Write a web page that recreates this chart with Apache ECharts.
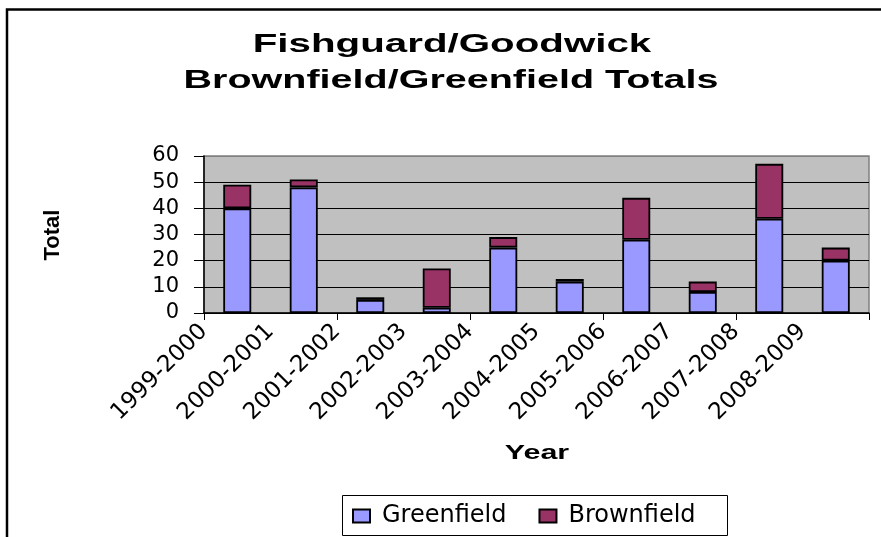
<!DOCTYPE html>
<html>
<head>
<meta charset="utf-8">
<script src="https://cdn.jsdelivr.net/npm/echarts@6/dist/echarts.min.js"></script>
<style>
html,body{margin:0;padding:0;background:#fff;}
#c{width:881px;height:537px;}
</style>
</head>
<body>
<div id="c"></div>
<script>
const categories = ['1999-2000','2000-2001','2001-2002','2002-2003','2003-2004','2004-2005','2005-2006','2006-2007','2007-2008','2008-2009'];
const greenfield = [40, 48, 5, 2, 25, 12, 28, 8, 36, 20];
const brownfield = [9, 3, 1, 15, 4, 1, 16, 4, 21, 5];
const yTicks = {min: 0, max: 60, interval: 10};
const titleLines = ['Fishguard/Goodwick', 'Brownfield/Greenfield Totals'];
const xName = 'Year';
const yName = 'Total';

const chart = echarts.init(document.getElementById('c'), null, {renderer: 'canvas'});
const F = "'DejaVu Sans', sans-serif";
const FB = "'Liberation Sans', Arial, sans-serif";

const option = {
  animation: false,
  backgroundColor: '#fff',
  graphic: [
    {type: 'rect', shape: {x: 7, y: 9.5, width: 900, height: 600}, style: {fill: 'none', stroke: '#000', lineWidth: 2.5}, z: 100},
    {type: 'text', x: 452, y: 45, scaleX: 1.55, style: {text: titleLines[0], font: 'bold 26px ' + FB, fill: '#000', textAlign: 'center', textVerticalAlign: 'middle'}},
    {type: 'text', x: 451, y: 81, scaleX: 1.52, style: {text: titleLines[1], font: 'bold 26px ' + FB, fill: '#000', textAlign: 'center', textVerticalAlign: 'middle'}},
    {type: 'text', x: 537, y: 453, scaleX: 1.45, style: {text: xName, font: 'bold 21px ' + FB, fill: '#000', textAlign: 'center', textVerticalAlign: 'middle'}},
    {type: 'text', x: 53, y: 235, rotation: Math.PI / 2, style: {text: yName, font: 'bold 22px ' + FB, fill: '#000', textAlign: 'center', textVerticalAlign: 'middle'}},
    {type: 'rect', shape: {x: 342.5, y: 495.5, width: 385, height: 40}, style: {fill: '#fff', stroke: '#000', lineWidth: 1}, z: 0}
  ],
  legend: {
    left: 352, top: 504,
    padding: 0,
    itemWidth: 17, itemHeight: 13,
    itemGap: 32,
    icon: 'rect',
    textStyle: {fontFamily: F, fontSize: 24, color: '#000', padding: [0, 0, 0, 7]},
    data: ['Greenfield', 'Brownfield'],
    z: 10
  },
  grid: {
    left: 204, right: 12, top: 156, bottom: 224,
    show: true, backgroundColor: '#C0C0C0', borderColor: '#808080', borderWidth: 1.5
  },
  xAxis: [
    {
      type: 'category', data: categories, boundaryGap: true, position: 'bottom',
      axisLine: {show: true, lineStyle: {color: '#000', width: 1.5}},
      axisTick: {show: true, length: 7, lineStyle: {color: '#000', width: 1}},
      axisLabel: {show: false},
      splitLine: {show: false}
    },
    {
      type: 'category', data: categories.concat(['']), boundaryGap: false, position: 'bottom',
      axisLine: {show: false}, axisTick: {show: false}, splitLine: {show: false},
      axisLabel: {show: true, rotate: 45, margin: 15, interval: 0, fontFamily: F, fontSize: 23, color: '#000'}
    }
  ],
  yAxis: {
    type: 'value', min: yTicks.min, max: yTicks.max, interval: yTicks.interval,
    axisLine: {show: true, lineStyle: {color: '#000', width: 1.5}},
    axisTick: {show: true, length: 10, lineStyle: {color: '#000', width: 1}},
    axisLabel: {fontFamily: F, fontSize: 21, color: '#000', margin: 25},
    splitLine: {show: true, lineStyle: {color: ['#000', '#000', '#000', '#000', '#000', '#000', '#808080'], width: 1.2}}
  },
  series: [
    {
      name: 'Greenfield', type: 'bar', stack: 'total', data: greenfield, barWidth: 28, xAxisIndex: 0,
      itemStyle: {color: '#9999FF', borderColor: '#000', borderWidth: 1.8}
    },
    {
      name: 'Brownfield', type: 'bar', stack: 'total', data: brownfield, barWidth: 28, xAxisIndex: 0,
      itemStyle: {color: '#993366', borderColor: '#000', borderWidth: 1.8}
    }
  ]
};
chart.setOption(option);
</script>
</body>
</html>
